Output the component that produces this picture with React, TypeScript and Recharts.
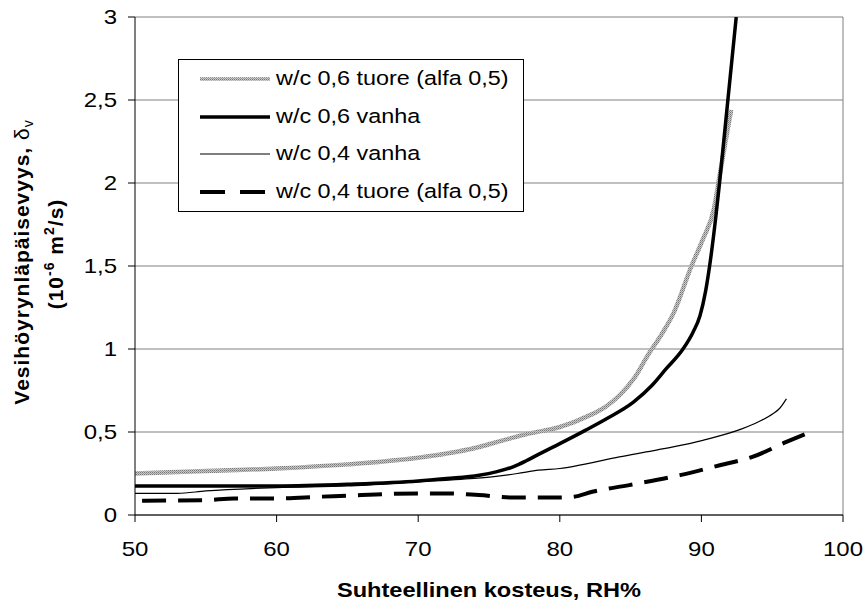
import React from 'react';
import { LineChart, Line, XAxis, YAxis, CartesianGrid, ReferenceLine, Legend } from 'recharts';

const FONT = '"Liberation Sans", Arial, sans-serif';

const rhTicks = [50, 60, 70, 80, 90, 100];
const deltaTicks = [0, 0.5, 1, 1.5, 2, 2.5, 3];

// w/c 0,6 tuore (alfa 0,5)
const tuore06Rh = [50, 55, 60, 65, 70, 72, 74.3, 76, 77.8, 80, 82.1, 83.2, 84.2, 85.3, 86.2, 87.2, 88, 89.3, 90.1, 90.9, 91.3, 91.7, 92.1];
const tuore06D = [0.25, 0.265, 0.28, 0.305, 0.345, 0.37, 0.41, 0.45, 0.49, 0.53, 0.6, 0.65, 0.72, 0.83, 0.96, 1.09, 1.21, 1.5, 1.66, 1.85, 2.05, 2.25, 2.44];

// w/c 0,6 vanha
const vanha06Rh = [50, 55, 60, 65, 70, 72, 74.3, 75.5, 76.7, 77.6, 78.6, 80, 81.8, 83.3, 85.2, 86.5, 87.5, 88.7, 89.4, 89.9, 90.3, 90.58, 91.05, 91.28, 91.87, 92.46];
const vanha06D = [0.175, 0.175, 0.175, 0.185, 0.205, 0.22, 0.24, 0.26, 0.29, 0.325, 0.37, 0.43, 0.51, 0.58, 0.68, 0.78, 0.88, 1.0, 1.1, 1.2, 1.35, 1.5, 1.82, 2.0, 2.5, 3.0];

// w/c 0,4 vanha
const vanha04Rh = [50, 53, 55, 60, 65, 70, 73, 75.2, 77, 78.5, 80, 81.4, 84.2, 86.1, 88, 90.1, 92.9, 94, 95.05, 95.5, 96];
const vanha04D = [0.13, 0.13, 0.145, 0.165, 0.175, 0.2, 0.215, 0.23, 0.25, 0.27, 0.28, 0.3, 0.35, 0.38, 0.41, 0.45, 0.52, 0.56, 0.61, 0.64, 0.7];

// w/c 0,4 tuore (alfa 0,5)
const tuore04Rh = [50.5, 55, 57, 60, 63, 66, 70, 72, 74.3, 76.7, 80, 81, 82.3, 84.9, 88.5, 91.3, 93.6, 96, 98];
const tuore04D = [0.086, 0.09, 0.1, 0.1, 0.11, 0.12, 0.13, 0.13, 0.12, 0.105, 0.105, 0.11, 0.14, 0.18, 0.24, 0.3, 0.35, 0.44, 0.51];

const zip = (rh: number[], d: number[]) => rh.map((x, i) => ({ rh: x, d: d[i] }));

const series = [
  { name: 'w/c 0,6 tuore (alfa 0,5)', data: zip(tuore06Rh, tuore06D), stroke: 'url(#grain)', legendStroke: 'url(#grainLegend)', width: 4.5, dash: undefined },
  { name: 'w/c 0,6 vanha', data: zip(vanha06Rh, vanha06D), stroke: '#000', legendStroke: '#000', width: 3.5, dash: undefined },
  { name: 'w/c 0,4 vanha', data: zip(vanha04Rh, vanha04D), stroke: '#000', legendStroke: '#000', width: 1.2, dash: undefined },
  { name: 'w/c 0,4 tuore (alfa 0,5)', data: zip(tuore04Rh, tuore04D), stroke: '#000', legendStroke: '#000', width: 4, dash: '24 12' },
];

// draw order: thick black on top
const drawOrder = [0, 2, 3, 1];

const fmt = (v: number) => String(v).replace('.', ',');

const XTick = ({ x, y, payload }: any) => (
  <text transform={`translate(${x},${y + 32}) scale(1.2,1)`} textAnchor="middle" fontSize={20} fontFamily={FONT} fill="#000">
    {fmt(payload.value)}
  </text>
);

const YTick = ({ x, y, payload }: any) => (
  <text transform={`translate(${x},${y + 7}) scale(1.2,1)`} textAnchor="end" fontSize={20} fontFamily={FONT} fill="#000">
    {fmt(payload.value)}
  </text>
);

const XTitle = (props: any) => {
  const vb = props.viewBox ?? { x: 135, y: 515, width: 708, height: 88 };
  return (
    <text transform={`translate(${vb.x + vb.width / 2},${vb.y + 82}) scale(1.18,1)`} textAnchor="middle" fontSize={20} fontWeight="bold" fontFamily={FONT} fill="#000">
      Suhteellinen kosteus, RH%
    </text>
  );
};

const YTitle = (props: any) => {
  const vb = props.viewBox ?? { x: 0, y: 17, width: 135, height: 498 };
  const cy = vb.y + vb.height / 2;
  return (
    <g fontFamily={FONT} fontWeight="bold" fill="#000" fontSize={21}>
      <text transform={`translate(29,${cy - 4}) rotate(-90)`} textAnchor="middle" letterSpacing={1}>
        Vesihöyrynläpäisevyys, <tspan fontWeight="normal">δ</tspan><tspan fontWeight="normal" fontSize={14} dy={4}>v</tspan>
      </text>
      <text transform={`translate(63,${cy - 12}) rotate(-90)`} textAnchor="middle" letterSpacing={1}>
        (10<tspan fontSize={14} dy={-9}>-6</tspan><tspan dy={9}> m</tspan><tspan fontSize={14} dy={-9}>2</tspan><tspan dy={9}>/s)</tspan>
      </text>
    </g>
  );
};

const rowY = [20, 58, 95, 133];

const LegendBox = () => (
  <svg width={346} height={153} style={{ display: 'block' }}>
    <defs>
      <pattern id="grainLegend" width="2" height="2" patternUnits="userSpaceOnUse">
        <rect width="2" height="2" fill="#c8c8c8" />
        <rect width="1" height="1" fill="#777" />
        <rect x="1" y="1" width="1" height="1" fill="#999" />
      </pattern>
    </defs>
    <rect x={0.5} y={0.5} width={345} height={152} fill="#fff" stroke="#000" strokeWidth={1} />
    {series.map((s, i) => (
      <g key={s.name}>
        <line x1={22} x2={92} y1={rowY[i]} y2={rowY[i]} stroke={s.legendStroke} strokeWidth={s.width === 4.5 ? 3.5 : s.width} strokeDasharray={s.dash ? '25 15' : undefined} />
        <text transform={`translate(98,${rowY[i] + 6}) scale(1.2,1)`} fontSize={19.5} fontFamily={FONT} fill="#000">
          {s.name}
        </text>
      </g>
    ))}
  </svg>
);

export default function App() {
  return (
    <div style={{ position: 'absolute', left: 0, top: 0, width: 864, height: 603, background: '#fff' }}>
      <LineChart width={864} height={603} margin={{ top: 17, right: 21, bottom: 0, left: 0 }}>
        <defs>
          <pattern id="grain" width="2" height="2" patternUnits="userSpaceOnUse">
            <rect width="2" height="2" fill="#c8c8c8" />
            <rect width="1" height="1" fill="#777" />
            <rect x="1" y="1" width="1" height="1" fill="#999" />
          </pattern>
        </defs>
        <CartesianGrid vertical={false} stroke="#808080" strokeWidth={1} />
        <ReferenceLine x={100} stroke="#808080" strokeWidth={1} />
        <XAxis
          dataKey="rh"
          type="number"
          domain={[50, 100]}
          ticks={rhTicks}
          interval={0}
          height={88}
          tickSize={7}
          tickMargin={2}
          axisLine={{ stroke: '#000' }}
          tickLine={{ stroke: '#000' }}
          tick={<XTick />}
          label={XTitle}
          allowDataOverflow
        />
        <YAxis
          type="number"
          domain={[0, 3]}
          ticks={deltaTicks}
          interval={0}
          width={135}
          tickSize={7}
          tickMargin={11}
          axisLine={{ stroke: '#000' }}
          tickLine={{ stroke: '#000' }}
          tick={<YTick />}
          label={YTitle}
          allowDataOverflow
        />
        <Legend
          layout="horizontal"
          verticalAlign="middle"
          align="center"
          wrapperStyle={{ left: 178, top: 59, width: 346, height: 153 }}
          content={LegendBox}
        />
        {drawOrder.map((idx) => {
          const s = series[idx];
          return (
            <Line
              key={s.name}
              name={s.name}
              data={s.data}
              dataKey="d"
              type="monotone"
              stroke={s.stroke}
              strokeWidth={s.width}
              strokeDasharray={s.dash}
              dot={false}
              activeDot={false}
              isAnimationActive={false}
            />
          );
        })}
      </LineChart>
    </div>
  );
}
